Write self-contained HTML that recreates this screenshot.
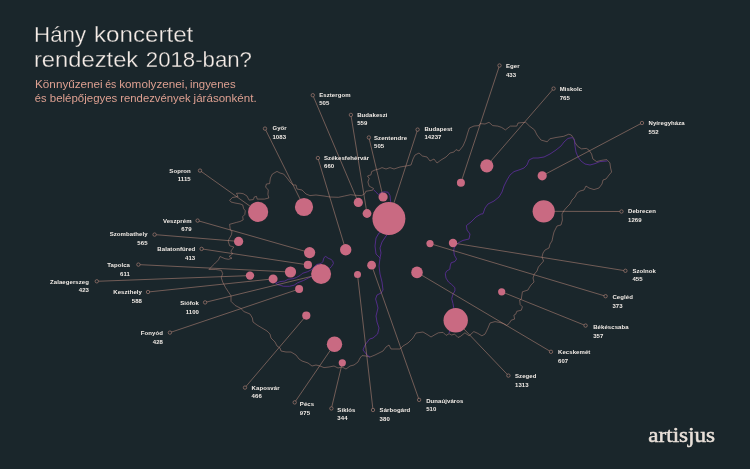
<!DOCTYPE html><html><head><meta charset="utf-8"><title>Hány koncertet rendeztek 2018-ban?</title>
<style>html,body{margin:0;padding:0;background:#1a262b;}body{width:750px;height:469px;overflow:hidden;position:relative;font-family:"Liberation Sans",sans-serif;}svg{position:absolute;left:0;top:0;display:block;will-change:transform}text{font-family:"Liberation Sans",sans-serif}.lb{font-size:6.0px;font-weight:bold;fill:#f1ebe6;letter-spacing:0.08px}.t{font-size:21.6px;fill:#f5ece7;stroke:#1a262b;stroke-width:0.3px}.s{font-size:10.4px;fill:#dea091}.logo{font-family:"Liberation Serif",serif;font-size:21.5px;fill:#e9e0d9;stroke:#e9e0d9;stroke-width:0.5px}</style></head><body>
<svg width="750" height="469" viewBox="0 0 750 469">
<rect width="750" height="469" fill="#1a262b"/>
<g fill="none" stroke="#b5857a" stroke-width="0.52" stroke-linejoin="round">
<polygon points="230.0,200.0 232.4,197.5 238.0,196.6 236.5,193.3 240.0,193.2 243.2,193.7 246.9,195.9 249.1,200.1 253.3,199.6 254.4,196.9 256.5,196.4 257.1,199.1 264.5,199.1 268.8,198.0 267.9,194.3 268.3,190.0 265.6,187.0 266.4,184.0 269.6,183.6 270.4,178.0 272.4,174.0 277.0,171.4 280.0,173.0 283.6,174.0 287.0,178.0 290.0,182.0 293.0,185.0 296.0,185.0 297.0,189.0 302.0,190.0 306.0,194.0 310.0,195.6 316.0,195.0 324.0,196.0 330.0,197.0 338.5,197.3 344.5,196.0 350.5,194.7 355.6,195.3 361.6,195.6 365.0,193.5 365.8,191.3 372.7,190.1 373.5,188.4 369.2,186.2 367.9,182.0 369.2,178.5 367.5,176.0 371.0,174.8 371.6,171.6 375.0,170.0 379.0,169.0 382.0,167.6 386.0,169.0 390.0,167.6 394.0,169.0 400.0,167.0 406.0,166.0 411.0,165.0 413.0,159.0 415.0,155.0 419.0,153.0 422.4,156.0 427.0,157.0 430.0,161.0 434.0,159.0 437.0,163.0 441.0,160.0 446.0,157.0 450.0,153.0 454.0,152.0 456.0,149.6 459.0,151.0 463.0,146.0 465.6,140.0 468.0,132.0 469.4,128.0 474.0,126.0 479.0,125.6 480.0,123.6 485.0,124.0 489.0,122.3 492.7,125.6 497.8,126.1 501.6,127.4 505.4,129.9 510.4,126.1 516.8,126.1 518.0,123.0 525.7,122.3 529.5,126.1 534.5,129.9 537.0,135.0 540.9,140.0 547.2,141.8 549.8,138.8 556.0,137.5 563.7,136.3 568.8,134.2 571.3,135.0 573.9,138.8 575.0,142.6 577.7,146.4 581.5,148.9 586.5,148.4 589.0,150.2 591.6,154.0 592.9,159.0 596.7,161.6 601.8,160.3 606.8,159.6 609.9,162.9 610.6,168.0 611.6,172.0 609.0,175.0 606.0,179.0 603.0,180.0 602.0,184.0 599.0,188.0 594.0,189.6 589.0,188.0 586.0,186.0 584.0,190.0 580.0,191.0 577.0,193.0 575.0,197.0 572.0,200.0 570.0,204.0 567.0,207.0 564.4,210.0 562.0,214.0 562.4,220.0 561.0,225.0 557.0,226.0 554.0,232.0 553.0,236.0 552.0,241.0 550.0,244.0 549.0,248.0 545.0,250.0 543.0,253.0 542.0,257.0 543.6,261.0 541.0,264.0 538.4,267.0 537.0,271.0 534.4,274.0 533.0,278.0 534.0,282.0 531.0,285.0 529.0,288.0 528.0,290.0 522.4,291.8 521.3,299.0 519.7,300.1 520.2,304.6 522.4,306.8 521.3,310.2 516.8,311.3 515.7,314.2 513.9,315.1 514.6,319.1 511.2,320.2 509.0,323.6 506.7,325.4 503.4,323.6 500.0,322.5 495.0,321.6 490.0,323.0 488.0,328.0 485.0,334.1 481.9,335.8 477.7,333.3 473.8,331.6 469.1,335.8 464.9,332.8 460.6,336.3 458.0,337.5 454.6,334.1 451.6,335.0 449.1,333.7 446.1,335.4 443.1,332.4 438.4,332.8 435.0,334.6 431.0,337.0 428.0,335.0 423.0,332.0 416.0,333.0 413.0,338.0 408.0,343.0 403.0,346.0 400.0,349.0 391.0,349.0 389.0,345.0 386.0,347.0 383.0,351.0 379.0,353.0 375.0,355.0 370.0,357.0 366.0,356.0 362.0,355.6 360.0,358.0 358.0,362.0 354.0,365.0 350.0,366.0 346.0,369.0 342.0,367.0 338.0,368.0 334.0,366.0 329.0,367.0 324.0,367.6 320.0,366.0 316.0,365.0 312.0,366.0 308.0,363.0 302.0,361.0 299.0,359.0 296.0,355.0 291.0,352.0 286.0,352.0 281.0,351.0 280.0,348.0 277.0,346.0 275.0,342.0 271.0,338.0 270.0,334.0 267.0,331.0 262.0,328.0 257.0,325.0 253.0,322.0 252.4,318.0 250.0,314.0 244.0,311.6 240.7,308.3 235.2,305.5 231.0,301.3 231.0,295.8 228.2,291.6 225.5,287.5 222.7,282.0 221.3,277.8 222.7,273.6 221.3,270.3 215.8,269.5 208.9,269.5 210.2,268.1 214.4,264.0 218.5,259.8 220.0,256.5 225.0,258.7 228.5,259.3 232.0,258.2 229.1,256.4 232.6,254.0 230.9,251.1 233.8,247.0 229.7,245.8 228.3,241.7 228.5,240.0 231.5,234.7 232.0,231.2 230.3,230.0 229.6,224.3 236.5,222.4 240.0,221.5 243.2,219.9 242.7,216.7 244.8,214.5 245.3,210.8 243.7,208.7 242.7,204.9 240.0,203.9 235.0,203.0 231.0,202.0 229.6,200.2"/>
</g>
<g fill="none" stroke="#602e9e" stroke-width="0.8" stroke-linejoin="round" stroke-linecap="round">
<polyline points="374.0,190.1 376.0,192.2 378.6,194.7 380.5,193.0 383.8,191.8 388.0,192.2 390.0,195.6 390.6,201.6 389.0,212.0"/>
<polyline points="385.0,230.0 379.0,233.0 376.0,238.0 375.0,246.0 376.0,254.0 380.0,258.0"/>
<polyline points="390.0,232.0 386.0,236.0 382.0,242.0 380.0,248.0 381.0,253.0 380.0,258.0 379.0,266.0 380.0,274.0 382.0,282.0 383.0,290.0 381.0,293.0 377.0,295.0 375.6,299.0 377.0,304.0 378.0,308.0 376.0,316.0 377.0,322.0 379.0,328.0 377.6,334.0 373.0,338.0 369.6,339.0 365.0,345.0 363.0,350.0 367.0,355.0 369.6,357.0"/>
<polyline points="607.0,161.0 600.0,161.6 595.0,163.6 590.0,165.0 585.0,164.0 581.0,161.0 578.0,157.0 576.0,152.0 575.0,146.0 574.4,140.0 572.4,137.6 568.0,138.4 564.0,142.0 561.0,146.0 556.0,150.0 550.0,154.0 544.0,157.0 538.0,158.0 533.0,158.0 529.0,160.0 527.0,165.0 524.0,168.0 520.0,169.6 514.0,171.6 510.0,175.0 507.0,180.0 504.0,186.0 502.0,192.0 499.0,197.0 494.0,201.0 488.0,204.0 485.0,208.0 483.0,213.8 481.0,214.0 476.0,217.0 471.0,222.0 466.4,225.6 467.0,230.0 470.0,234.0 469.0,239.0 463.0,240.4 458.0,243.0 454.5,247.0 453.7,250.0 454.3,255.1 456.6,259.0 454.9,261.5 451.1,262.8 450.2,266.0 449.8,269.2 446.6,271.1 445.3,273.7 446.0,278.1 448.5,282.0 451.7,284.5 454.9,287.7 454.9,290.9 453.0,294.1 451.7,298.6 453.0,303.7 453.7,307.5 454.0,320.0 449.0,333.0"/>
<polyline points="276.0,283.3 280.0,281.6 284.7,281.1 288.2,279.3 292.9,278.7 296.4,277.5 300.5,275.2 302.3,273.4 307.6,271.7 311.1,269.9 316.4,264.6 321.1,263.5 322.8,261.7 324.0,257.6 325.7,256.4 328.1,258.2 331.0,259.4 332.8,261.1 333.4,263.5 331.6,266.4 329.9,268.2 320.0,273.0 311.1,276.6 308.2,278.1 303.5,280.5 297.6,282.8 294.1,285.2 289.4,286.3 283.5,286.3 280.0,285.2 277.5,284.6 276.0,283.3"/>
</g>
<g stroke="#c48e80" stroke-width="0.52" fill="none">
<line x1="200.0" y1="170.6" x2="258.1" y2="211.9"/>
<line x1="265.0" y1="128.6" x2="304.0" y2="207.0"/>
<line x1="312.8" y1="95.2" x2="358.3" y2="202.4"/>
<line x1="350.9" y1="114.9" x2="367.0" y2="213.5"/>
<line x1="368.9" y1="137.5" x2="383.1" y2="197.0"/>
<line x1="417.6" y1="129.6" x2="388.9" y2="218.6"/>
<line x1="317.9" y1="158.0" x2="345.7" y2="249.7"/>
<line x1="499.5" y1="65.5" x2="460.9" y2="182.8"/>
<line x1="553.6" y1="88.6" x2="486.8" y2="165.8"/>
<line x1="642.0" y1="123.0" x2="542.2" y2="175.8"/>
<line x1="621.5" y1="211.5" x2="543.7" y2="211.3"/>
<line x1="625.4" y1="270.8" x2="453.0" y2="243.0"/>
<line x1="605.6" y1="296.2" x2="430.0" y2="243.6"/>
<line x1="585.6" y1="325.6" x2="501.7" y2="291.8"/>
<line x1="551.0" y1="351.8" x2="417.0" y2="272.4"/>
<line x1="508.4" y1="375.6" x2="455.7" y2="320.3"/>
<line x1="419.1" y1="399.9" x2="371.6" y2="265.2"/>
<line x1="373.0" y1="410.0" x2="357.5" y2="274.6"/>
<line x1="331.4" y1="408.5" x2="342.3" y2="362.8"/>
<line x1="294.7" y1="402.4" x2="334.5" y2="344.2"/>
<line x1="245.0" y1="387.6" x2="306.3" y2="315.6"/>
<line x1="169.9" y1="332.6" x2="299.1" y2="289.0"/>
<line x1="205.1" y1="302.4" x2="321.1" y2="274.0"/>
<line x1="148.0" y1="292.0" x2="273.1" y2="278.9"/>
<line x1="96.8" y1="281.3" x2="250.0" y2="275.6"/>
<line x1="138.4" y1="264.6" x2="290.5" y2="272.0"/>
<line x1="201.6" y1="248.9" x2="307.9" y2="264.9"/>
<line x1="154.6" y1="234.6" x2="238.6" y2="241.4"/>
<line x1="197.6" y1="220.6" x2="309.6" y2="252.6"/>
</g>
<g stroke="#b5857a" stroke-width="0.62" fill="#1a262b">
<circle cx="200.0" cy="170.6" r="1.7"/>
<circle cx="265.0" cy="128.6" r="1.7"/>
<circle cx="312.8" cy="95.2" r="1.7"/>
<circle cx="350.9" cy="114.9" r="1.7"/>
<circle cx="368.9" cy="137.5" r="1.7"/>
<circle cx="417.6" cy="129.6" r="1.7"/>
<circle cx="317.9" cy="158.0" r="1.7"/>
<circle cx="499.5" cy="65.5" r="1.7"/>
<circle cx="553.6" cy="88.6" r="1.7"/>
<circle cx="642.0" cy="123.0" r="1.7"/>
<circle cx="621.5" cy="211.5" r="1.7"/>
<circle cx="625.4" cy="270.8" r="1.7"/>
<circle cx="605.6" cy="296.2" r="1.7"/>
<circle cx="585.6" cy="325.6" r="1.7"/>
<circle cx="551.0" cy="351.8" r="1.7"/>
<circle cx="508.4" cy="375.6" r="1.7"/>
<circle cx="419.1" cy="399.9" r="1.7"/>
<circle cx="373.0" cy="410.0" r="1.7"/>
<circle cx="331.4" cy="408.5" r="1.7"/>
<circle cx="294.7" cy="402.4" r="1.7"/>
<circle cx="245.0" cy="387.6" r="1.7"/>
<circle cx="169.9" cy="332.6" r="1.7"/>
<circle cx="205.1" cy="302.4" r="1.7"/>
<circle cx="148.0" cy="292.0" r="1.7"/>
<circle cx="96.8" cy="281.3" r="1.7"/>
<circle cx="138.4" cy="264.6" r="1.7"/>
<circle cx="201.6" cy="248.9" r="1.7"/>
<circle cx="154.6" cy="234.6" r="1.7"/>
<circle cx="197.6" cy="220.6" r="1.7"/>
</g>
<g fill="#c96a82">
<circle cx="258.1" cy="211.9" r="10.1"/>
<circle cx="304.0" cy="207.0" r="9.1"/>
<circle cx="358.3" cy="202.4" r="4.6"/>
<circle cx="367.0" cy="213.5" r="4.4"/>
<circle cx="383.1" cy="197.0" r="4.6"/>
<circle cx="388.9" cy="218.6" r="16.5"/>
<circle cx="345.7" cy="249.7" r="5.7"/>
<circle cx="460.9" cy="182.8" r="4.0"/>
<circle cx="486.8" cy="165.8" r="6.6"/>
<circle cx="542.2" cy="175.8" r="4.6"/>
<circle cx="543.7" cy="211.3" r="11.1"/>
<circle cx="453.0" cy="243.0" r="4.2"/>
<circle cx="430.0" cy="243.6" r="3.6"/>
<circle cx="501.7" cy="291.8" r="3.6"/>
<circle cx="417.0" cy="272.4" r="5.8"/>
<circle cx="455.7" cy="320.3" r="12.2"/>
<circle cx="371.6" cy="265.2" r="4.4"/>
<circle cx="357.5" cy="274.6" r="3.5"/>
<circle cx="342.3" cy="362.8" r="3.6"/>
<circle cx="334.5" cy="344.2" r="7.7"/>
<circle cx="306.3" cy="315.6" r="4.1"/>
<circle cx="299.1" cy="289.0" r="4.0"/>
<circle cx="321.1" cy="274.0" r="10.0"/>
<circle cx="273.1" cy="278.9" r="4.5"/>
<circle cx="250.0" cy="275.6" r="4.2"/>
<circle cx="290.5" cy="272.0" r="5.6"/>
<circle cx="307.9" cy="264.9" r="4.1"/>
<circle cx="238.6" cy="241.4" r="4.6"/>
<circle cx="309.6" cy="252.6" r="5.6"/>
</g>
<g class="lb">
<text transform="translate(190.8,172.6) scale(1.0,1)" text-anchor="end">Sopron</text>
<text transform="translate(190.8,181.2) scale(1.0,1)" text-anchor="end">1115</text>
<text transform="translate(272.4,130.4) scale(1.0,1)">Győr</text>
<text transform="translate(272.4,138.6) scale(1.0,1)">1083</text>
<text transform="translate(319.2,97.2) scale(1.0,1)">Esztergom</text>
<text transform="translate(319.2,105.0) scale(1.0,1)">505</text>
<text transform="translate(357.2,117.0) scale(1.0,1)">Budakeszi</text>
<text transform="translate(357.2,125.0) scale(1.0,1)">559</text>
<text transform="translate(374.0,139.5) scale(1.0,1)">Szentendre</text>
<text transform="translate(374.0,147.7) scale(1.0,1)">505</text>
<text transform="translate(424.4,131.2) scale(1.0,1)">Budapest</text>
<text transform="translate(424.4,139.3) scale(1.0,1)">14237</text>
<text transform="translate(324.0,160.0) scale(1.0,1)">Székesfehérvár</text>
<text transform="translate(324.0,168.2) scale(1.0,1)">660</text>
<text transform="translate(505.9,67.8) scale(1.0,1)">Eger</text>
<text transform="translate(505.9,76.6) scale(1.0,1)">433</text>
<text transform="translate(559.7,90.8) scale(1.0,1)">Miskolc</text>
<text transform="translate(559.7,99.7) scale(1.0,1)">765</text>
<text transform="translate(648.5,125.2) scale(1.0,1)">Nyíregyháza</text>
<text transform="translate(648.5,134.1) scale(1.0,1)">552</text>
<text transform="translate(628.0,213.1) scale(1.0,1)">Debrecen</text>
<text transform="translate(628.0,221.7) scale(1.0,1)">1269</text>
<text transform="translate(632.4,272.8) scale(1.0,1)">Szolnok</text>
<text transform="translate(632.4,281.4) scale(1.0,1)">455</text>
<text transform="translate(612.4,299.0) scale(1.0,1)">Cegléd</text>
<text transform="translate(612.4,307.8) scale(1.0,1)">373</text>
<text transform="translate(593.2,329.0) scale(1.0,1)">Békéscsaba</text>
<text transform="translate(593.2,337.6) scale(1.0,1)">357</text>
<text transform="translate(558.0,354.4) scale(1.0,1)">Kecskemét</text>
<text transform="translate(558.0,363.4) scale(1.0,1)">607</text>
<text transform="translate(515.0,378.0) scale(1.0,1)">Szeged</text>
<text transform="translate(515.0,386.6) scale(1.0,1)">1313</text>
<text transform="translate(426.2,402.7) scale(1.0,1)">Dunaújváros</text>
<text transform="translate(426.2,411.3) scale(1.0,1)">510</text>
<text transform="translate(379.6,412.3) scale(1.0,1)">Sárbogárd</text>
<text transform="translate(379.6,420.9) scale(1.0,1)">380</text>
<text transform="translate(337.3,411.5) scale(1.0,1)">Siklós</text>
<text transform="translate(337.3,419.9) scale(1.0,1)">344</text>
<text transform="translate(299.8,406.0) scale(1.0,1)">Pécs</text>
<text transform="translate(299.8,414.8) scale(1.0,1)">975</text>
<text transform="translate(251.6,390.0) scale(1.0,1)">Kaposvár</text>
<text transform="translate(251.6,398.4) scale(1.0,1)">466</text>
<text transform="translate(163.0,334.6) scale(1.0,1)" text-anchor="end">Fonyód</text>
<text transform="translate(163.0,343.5) scale(1.0,1)" text-anchor="end">428</text>
<text transform="translate(199.0,304.7) scale(1.0,1)" text-anchor="end">Siófok</text>
<text transform="translate(199.0,313.6) scale(1.0,1)" text-anchor="end">1100</text>
<text transform="translate(142.0,294.3) scale(1.0,1)" text-anchor="end">Keszthely</text>
<text transform="translate(142.0,303.0) scale(1.0,1)" text-anchor="end">588</text>
<text transform="translate(89.0,283.6) scale(1.0,1)" text-anchor="end">Zalaegerszeg</text>
<text transform="translate(89.0,292.3) scale(1.0,1)" text-anchor="end">423</text>
<text transform="translate(130.0,266.6) scale(1.0,1)" text-anchor="end">Tapolca</text>
<text transform="translate(130.0,275.5) scale(1.0,1)" text-anchor="end">611</text>
<text transform="translate(195.3,251.3) scale(1.0,1)" text-anchor="end">Balatonfüred</text>
<text transform="translate(195.3,260.1) scale(1.0,1)" text-anchor="end">413</text>
<text transform="translate(147.6,236.4) scale(1.0,1)" text-anchor="end">Szombathely</text>
<text transform="translate(147.6,245.0) scale(1.0,1)" text-anchor="end">565</text>
<text transform="translate(191.6,222.6) scale(1.0,1)" text-anchor="end">Veszprém</text>
<text transform="translate(191.6,231.2) scale(1.0,1)" text-anchor="end">679</text>
</g>
<text class="t" transform="translate(34.12,41.90) scale(1.0309,1)">Hány</text>
<text class="t" transform="translate(93.93,41.90) scale(1.1192,1)">koncertet</text>
<text class="t" transform="translate(33.96,67.40) scale(1.0998,1)">rendeztek</text>
<text class="t" transform="translate(145.79,67.40) scale(1.0282,1)">2018-ban?</text>
<text class="s" transform="translate(35.06,87.80) scale(1.1262,1)">Könnyűzenei</text>
<text class="s" transform="translate(105.28,87.80) scale(1.0094,1)">és</text>
<text class="s" transform="translate(119.24,87.80) scale(1.1285,1)">komolyzenei,</text>
<text class="s" transform="translate(189.96,87.80) scale(1.0963,1)">ingyenes</text>
<text class="s" transform="translate(34.86,102.10) scale(1.0682,1)">és</text>
<text class="s" transform="translate(49.81,102.10) scale(1.1027,1)">belépőjegyes</text>
<text class="s" transform="translate(120.27,102.10) scale(1.0869,1)">rendezvények</text>
<text class="s" transform="translate(193.59,102.10) scale(1.1142,1)">járásonként.</text>
<text class="logo" transform="translate(648.3,442.1) scale(1.075,1)">artisjus</text>
</svg></body></html>
